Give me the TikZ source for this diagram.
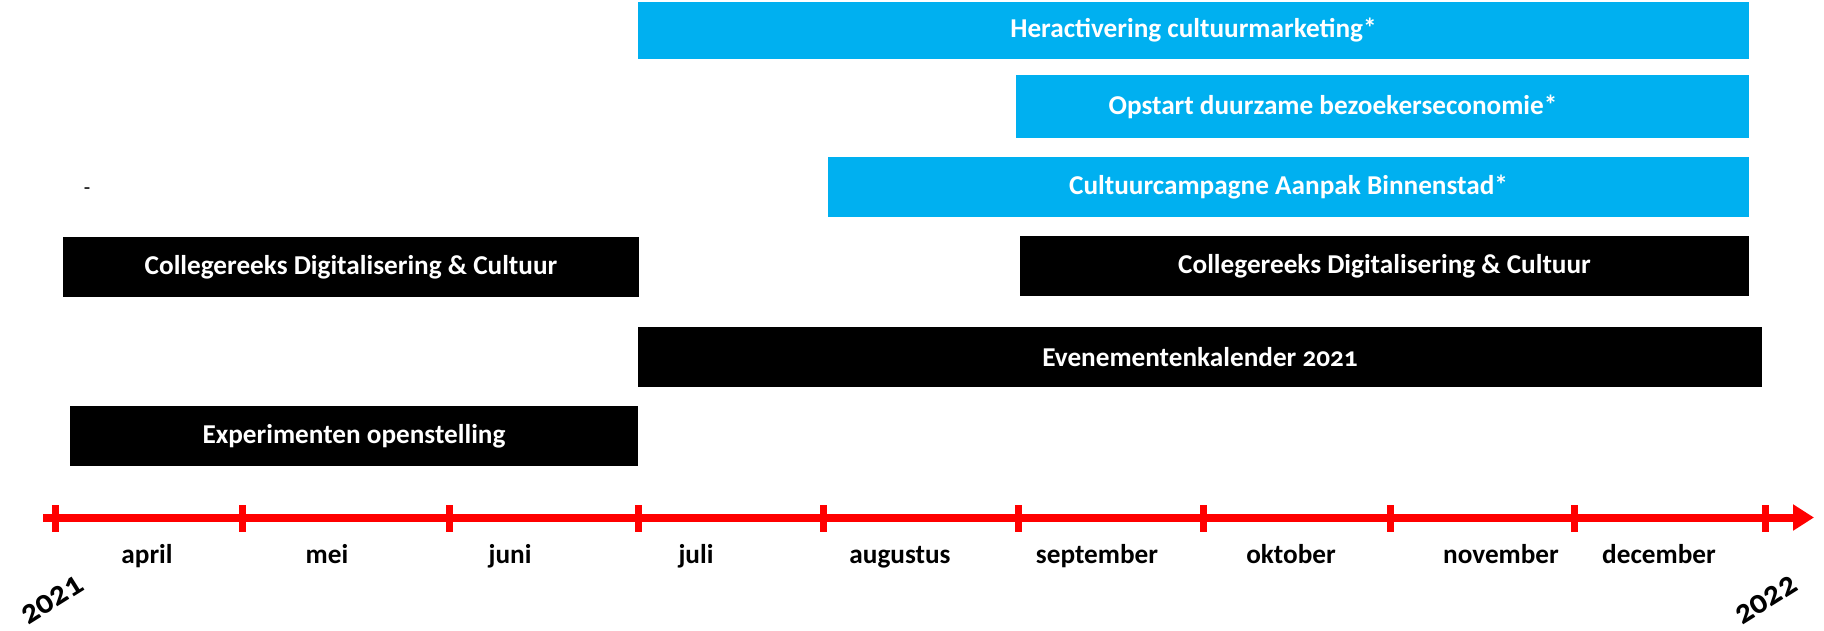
\documentclass[tikz,border=0pt]{standalone}
\usepackage{fontspec}
\setmainfont{Carlito}[Numbers=OldStyle]
\usetikzlibrary{arrows.meta}
\definecolor{balkblauw}{HTML}{00B0F0}
\definecolor{lijnrood}{HTML}{FF0000}

\begin{document}
\begin{tikzpicture}[x=0.02cm, y=-0.02cm,
	balk/.style args={#1x#2}{minimum width=#1*0.02cm, minimum height=#2*0.02cm, inner sep=0pt,
		text=white, font=\fontsize{15.5}{18}\selectfont\bfseries},
	blauw/.style={balk=#1, fill=balkblauw},
	zwart/.style={balk=#1, fill=black},
	maand/.style={anchor=base, font=\fontsize{15.5}{18}\selectfont\bfseries},
	jaar/.style={font=\fontsize{19}{22}\selectfont\bfseries, rotate=32, inner sep=0pt}] % pixel grid, y runs down

	\useasboundingbox (0,0) rectangle (1824,630);

	% balken
	\node[blauw=1111x57] (heract) at (1193.5,30.5) {Heractivering cultuurmarketing*};
	\node[blauw=733x63] (opstart) at (1382.5,106.5) {};
	\node[balk=10x10] (opstarttekst) at (1333,106.5) {Opstart duurzame bezoekerseconomie*};
	\node[blauw=921x60] (campagne) at (1288.5,187) {Cultuurcampagne Aanpak Binnenstad*};
	\node[zwart=576x60] (college1) at (351,267) {Collegereeks Digitalisering \& Cultuur};
	\node[zwart=729x60] (college2) at (1384.5,266) {Collegereeks Digitalisering \& Cultuur};
	\node[zwart=1124x60] (evenement) at (1200,357) {Evenementenkalender 2021};
	\node[zwart=568x60] (experiment) at (354,436) {Experimenten openstelling};

	\node[font=\large] (streepje) at (87,191) {-};

	% tijdlijn
	\coordinate (begin) at (43,517.5);
	\coordinate (eind) at (1814,517.5);
	\draw[lijnrood, line width=8*0.02cm, -{Triangle[length=21*0.02cm, width=25*0.02cm]}] (begin) -- (eind);
	\foreach \x in {55,242,449,638.5,823.5,1018,1203,1390,1574.5,1765}
		\draw[lijnrood, line width=7*0.02cm] (\x,505) -- (\x,532);

	\foreach \m/\x [count=\i] in {april/147,mei/327,juni/510,juli/696,augustus/900,september/1097,oktober/1291,november/1501,december/1659}
		\node[maand] (m\i) at (\x,563) {\m};

	\node[jaar] (j2021) at (52,600) {2021};
	\node[jaar] (j2022) at (1766,600) {2022};

\end{tikzpicture}
\end{document}
